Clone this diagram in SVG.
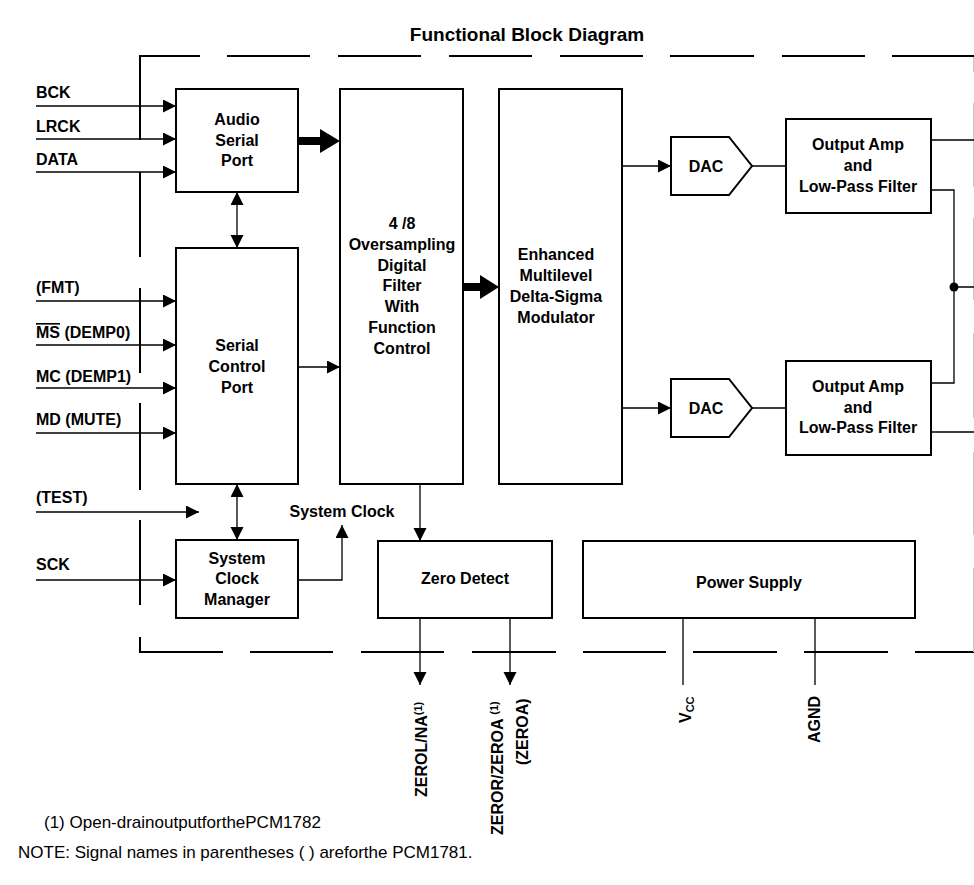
<svg xmlns="http://www.w3.org/2000/svg" width="974" height="885" viewBox="0 0 974 885">
<style>
text{font-family:"Liberation Sans",Arial,sans-serif;fill:#000}
.b{font-weight:bold;font-size:16px}
.c{text-anchor:middle}
.r{font-size:17px}
.box{fill:#fff;stroke:#000;stroke-width:2}
.w{fill:none;stroke:#000;stroke-width:1.3}
.brd{fill:none;stroke:#000;stroke-width:2}
</style>
<defs>
<marker id="ah" markerUnits="userSpaceOnUse" markerWidth="14" markerHeight="14" refX="13" refY="6.5" orient="auto-start-reverse">
<path d="M0,0 L13,6.5 L0,13 z" fill="#000"/>
</marker>
</defs>
<text class="b c" x="527" y="41" style="font-size:19px">Functional Block Diagram</text>
<g id="border">
<path class="brd" d="M140,56H200M227,56H310M338,56H421M449,56H532M560,56H643M670,56H754M782,56H865M892,56H974"/>
<path class="brd" d="M140,55V140M140,172V257M140,288V373M140,403V490M140,520V605M140,637V652H223M250,652H333M361,652H444M472,652H556M583,652H666M693,652H777M804,652H888M915,652H974"/>
<path fill="none" stroke="#c8c8c8" stroke-width="1" d="M973.5,57V72M973.5,103V187M973.5,218V300M973.5,333V418M973.5,452V535M973.5,568V652"/>
</g>
<g id="connectors">
<path class="w" d="M36,106H176" marker-end="url(#ah)"/>
<path class="w" d="M36,139H176" marker-end="url(#ah)"/>
<path class="w" d="M36,172H176" marker-end="url(#ah)"/>
<path class="w" d="M36,301H176" marker-end="url(#ah)"/>
<path class="w" d="M36,345H176" marker-end="url(#ah)"/>
<path class="w" d="M36,388H176" marker-end="url(#ah)"/>
<path class="w" d="M36,433H176" marker-end="url(#ah)"/>
<path class="w" d="M36,512H199" marker-end="url(#ah)"/>
<path class="w" d="M36,580H176" marker-end="url(#ah)"/>
<path class="w" d="M237,192V248" marker-start="url(#ah)" marker-end="url(#ah)"/>
<path class="w" d="M237,484V540" marker-start="url(#ah)" marker-end="url(#ah)"/>
<polygon points="298,137 320,137 320,129 340,141 320,153 320,145 298,145" fill="#000"/>
<polygon points="463,283 480,283 480,275 499,287 480,299 480,291 463,291" fill="#000"/>
<path class="w" d="M298,367H340" marker-end="url(#ah)"/>
<path class="w" d="M298,580H342V525" marker-end="url(#ah)"/>
<path class="w" d="M420,484V541" marker-end="url(#ah)"/>
<path class="w" d="M622,166H671" marker-end="url(#ah)"/>
<path class="w" d="M622,408H671" marker-end="url(#ah)"/>
<path class="w" d="M752,166H786M752,408H786"/>
<path class="w" d="M931,140H974M931,190H954V383H931M954,287H974M931,432H974"/>
<circle cx="954" cy="287" r="4.5" fill="#000"/>
<path class="w" d="M420,618V685" marker-end="url(#ah)"/>
<path class="w" d="M510,618V685" marker-end="url(#ah)"/>
<path class="w" d="M683,618V685M815,618V685"/>
</g>
<g id="labels">
<text class="b" x="36" y="98">BCK</text>
<text class="b" x="36" y="132">LRCK</text>
<text class="b" x="36" y="165">DATA</text>
<text class="b" x="36" y="293">(FMT)</text>
<text class="b" x="36" y="338"><tspan style="text-decoration:overline">MS</tspan> (DEMP0)</text>
<text class="b" x="36" y="382">MC (DEMP1)</text>
<text class="b" x="36" y="425">MD (MUTE)</text>
<text class="b" x="36" y="503">(TEST)</text>
<text class="b" x="36" y="570">SCK</text>
<text class="b c" x="342" y="517">System Clock</text>
<text class="b" transform="translate(427,797) rotate(-90)">ZEROL/NA<tspan style="font-size:11px" dy="-5">(1)</tspan></text>
<text class="b" transform="translate(503,835) rotate(-90)">ZEROR/ZEROA <tspan style="font-size:11px" dy="-5">(1)</tspan></text>
<text class="b" transform="translate(528,765) rotate(-90)">(ZEROA)</text>
<text class="b" transform="translate(691,723) rotate(-90)">V<tspan style="font-size:11px" dy="3">CC</tspan></text>
<text class="b" transform="translate(820,743) rotate(-90)">AGND</text>
<text class="r" x="44" y="828">(1) Open-drainoutputforthePCM1782</text>
<text class="r" x="18" y="858">NOTE: Signal names in parentheses ( ) areforthe PCM1781.</text>
</g>
<g id="asp">
<rect class="box" x="176" y="89" width="122" height="103"/>
<text class="b c" x="237" y="125">Audio</text>
<text class="b c" x="237" y="146">Serial</text>
<text class="b c" x="237" y="166">Port</text>
</g>
<g id="scp">
<rect class="box" x="176" y="248" width="122" height="236"/>
<text class="b c" x="237" y="351">Serial</text>
<text class="b c" x="237" y="372">Control</text>
<text class="b c" x="237" y="393">Port</text>
</g>
<g id="scm">
<rect class="box" x="176" y="540" width="122" height="78"/>
<text class="b c" x="237" y="564">System</text>
<text class="b c" x="237" y="584">Clock</text>
<text class="b c" x="237" y="605">Manager</text>
</g>
<g id="filter">
<rect class="box" x="340" y="89" width="123" height="395"/>
<text class="b c" x="402" y="229">4 /8</text>
<text class="b c" x="402" y="250">Oversampling</text>
<text class="b c" x="402" y="271">Digital</text>
<text class="b c" x="402" y="291">Filter</text>
<text class="b c" x="402" y="312">With</text>
<text class="b c" x="402" y="333">Function</text>
<text class="b c" x="402" y="354">Control</text>
</g>
<g id="modulator">
<rect class="box" x="499" y="89" width="123" height="395"/>
<text class="b c" x="556" y="260">Enhanced</text>
<text class="b c" x="556" y="281">Multilevel</text>
<text class="b c" x="556" y="302">Delta-Sigma</text>
<text class="b c" x="556" y="323">Modulator</text>
</g>
<g id="dac1">
<polygon class="box" points="671,137 729,137 752,166 729,195 671,195"/>
<text class="b c" x="706" y="172">DAC</text>
</g>
<g id="dac2">
<polygon class="box" points="671,379 729,379 752,408 729,437 671,437"/>
<text class="b c" x="706" y="414">DAC</text>
</g>
<g id="amp1">
<rect class="box" x="786" y="119" width="145" height="94"/>
<text class="b c" x="858" y="150">Output Amp</text>
<text class="b c" x="858" y="171">and</text>
<text class="b c" x="858" y="192">Low-Pass Filter</text>
</g>
<g id="amp2">
<rect class="box" x="786" y="361" width="145" height="94"/>
<text class="b c" x="858" y="392">Output Amp</text>
<text class="b c" x="858" y="413">and</text>
<text class="b c" x="858" y="433">Low-Pass Filter</text>
</g>
<g id="zero">
<rect class="box" x="378" y="541" width="174" height="77"/>
<text class="b c" x="465" y="584">Zero Detect</text>
</g>
<g id="power">
<rect class="box" x="583" y="541" width="332" height="77"/>
<text class="b c" x="749" y="588">Power Supply</text>
</g>
</svg>
